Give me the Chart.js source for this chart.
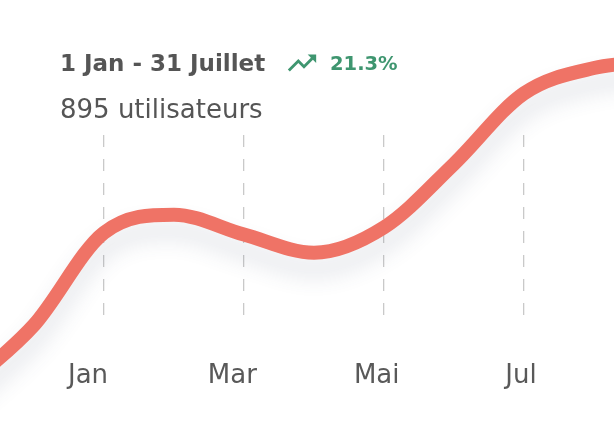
<!DOCTYPE html>
<html>
<head>
<meta charset="utf-8">
<script src="https://cdn.jsdelivr.net/npm/chart.js@4"></script>
<style>
  body { margin: 0; background: #fff; }
  #wrap { position: relative; width: 614px; height: 436px; overflow: hidden; }
  .txt { position: absolute; font-family: "DejaVu Sans", sans-serif; white-space: nowrap; }
  #title { left: 60px; top: 52px; font-size: 23px; line-height: 23px; font-weight: bold; color: #555; }
  #rate { left: 330px; top: 54px; font-size: 19.5px; line-height: 19.5px; font-weight: bold; color: #3f9670; }
  #sub { left: 60px; top: 96px; font-size: 26px; line-height: 26px; color: #555; }
  #icon { position: absolute; left: 285px; top: 46px; }
  canvas { position: absolute; left: 0; top: 0; }
</style>
</head>
<body>
<div id="wrap">
  <canvas id="my" width="614" height="436"></canvas>
  <div class="txt" id="title">1 Jan - 31 Juillet</div>
  <svg id="icon" width="34" height="34" viewBox="0 0 24 24"><path fill="#3f9670" d="M16 6l2.29 2.29-4.88 4.88-4-4L2 16.59 3.41 18l6-6 4 4 6.3-6.29L22 12V6z"/></svg>
  <div class="txt" id="rate">21.3%</div>
  <div class="txt" id="sub">895 utilisateurs</div>
</div>
<script>
// months shown on the curve (index = x position)
const months = ['Nov', 'Déc', 'Jan', 'Fév', 'Mar', 'Avr', 'Mai', 'Juin', 'Juil', 'Août', 'Sep'];
const values = [-40, -5, 46, 56, 45, 35, 49, 84, 123, 137, 141];

const tickPositions = [2, 4, 6, 8];
const tickLabels = ['Jan', 'Mar', 'Mai', 'Jul'];

const lineShadow = {
  id: 'lineShadow',
  beforeDatasetDraw(chart) {
    const c = chart.ctx;
    c.save();
    c.shadowColor = 'rgba(70, 80, 110, 0.16)';
    c.shadowBlur = 22;
    c.shadowOffsetY = 16;
  },
  afterDatasetDraw(chart) {
    chart.ctx.restore();
  }
};

function fixedTicks(scale) {
  scale.ticks = tickPositions.map(v => ({ value: v }));
}

const ctx = document.getElementById('my');

new Chart(ctx, {
  type: 'line',
  data: {
    datasets: [{
      data: months.map((m, i) => ({ x: i, y: values[i] })),
      borderColor: '#ef7366',
      borderWidth: 14,
      borderCapStyle: 'round',
      cubicInterpolationMode: 'monotone',
      capBezierPoints: false,
      pointRadius: 0,
      fill: false,
      clip: false
    }]
  },
  options: {
    responsive: false,
    animation: false,
    layout: { padding: { top: 135, bottom: 4, left: 0, right: 0 } },
    plugins: {
      legend: { display: false },
      tooltip: { enabled: false }
    },
    scales: {
      x: {
        type: 'linear',
        min: 2 - 104 / 70,
        max: 2 + 510 / 70,
        afterBuildTicks: fixedTicks,
        afterFit: (s) => { s.height = 0; },
        ticks: { display: false },
        grid: { color: '#c9c9c9', lineWidth: 1.3, drawTicks: false },
        border: { display: false, dash: [12, 12] }
      },
      xl: {
        type: 'linear',
        position: 'bottom',
        min: 2 - 88 / 72.17,
        max: 2 - 88 / 72.17 + 614 / 72.17,
        afterBuildTicks: fixedTicks,
        afterFit: (s) => { s.height = 116; },
        grid: { display: false, drawTicks: false },
        border: { display: false },
        ticks: {
          padding: 45,
          maxRotation: 0,
          color: '#595959',
          font: { family: 'DejaVu Sans', size: 26 },
          callback: (v) => tickLabels[tickPositions.indexOf(v)]
        }
      },
      y: {
        display: false,
        min: 0,
        max: 100
      }
    }
  },
  plugins: [lineShadow]
});
</script>
</body>
</html>
